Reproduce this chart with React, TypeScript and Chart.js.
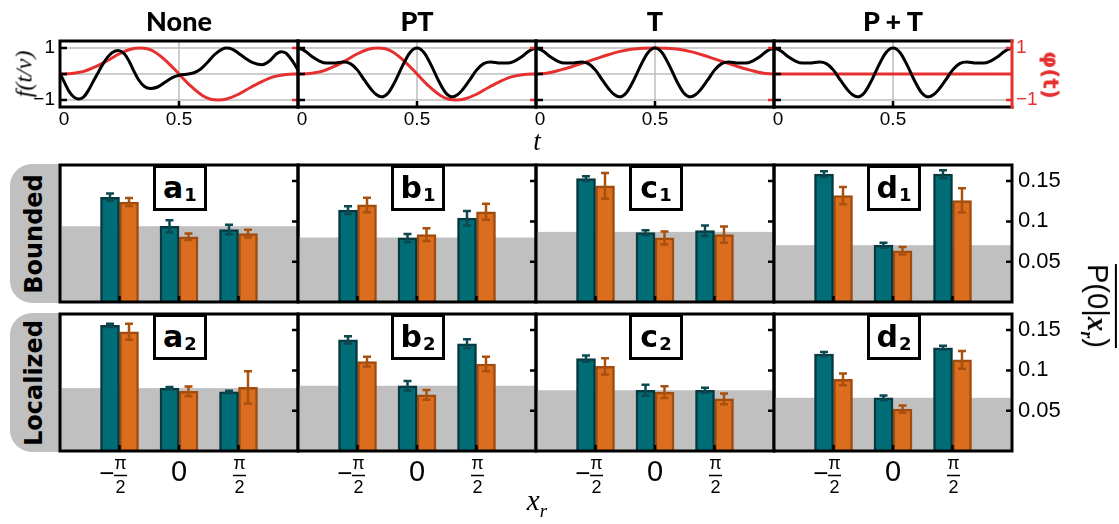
import React, { useEffect, useRef } from 'react';
import { Chart, registerables } from 'chart.js';
Chart.register(...registerables);

// ---------------- data ----------------
const panelTitles = ['None', 'PT', 'T', 'P + T'];
const panelLetters = ['a', 'b', 'c', 'd'];
const rowNames = ['Bounded', 'Localized'];
const xrLabels = ['−π/2', '0', 'π/2'];
const tTicks = [0, 0.5];
const fTicks = [1, 0, -1];
const phiTicks = [1, -1];
const pTicks = [0.05, 0.1, 0.15];

// f(t/ν) for "None"
const tNone = [0, 0.02, 0.04, 0.06, 0.08, 0.1, 0.12, 0.14, 0.16, 0.18, 0.2, 0.22, 0.245, 0.27, 0.29, 0.31, 0.33, 0.355, 0.38, 0.41, 0.44, 0.47, 0.5, 0.53, 0.56, 0.59, 0.62, 0.65, 0.68, 0.7, 0.725, 0.75, 0.78, 0.81, 0.85, 0.88, 0.91, 0.93, 0.95, 0.975, 1];
const fNone = [0.02, -0.35, -0.7, -0.9, -0.96, -0.88, -0.62, -0.28, 0.05, 0.38, 0.65, 0.83, 0.9, 0.78, 0.5, 0.12, -0.22, -0.48, -0.56, -0.5, -0.33, -0.15, -0.05, -0.01, 0.04, 0.18, 0.45, 0.75, 0.95, 1, 0.95, 0.8, 0.6, 0.44, 0.36, 0.5, 0.78, 0.86, 0.8, 0.52, 0.15];
// f(t/ν) for "PT", "T", "P + T"
const tSym = [0, 0.03, 0.06, 0.09, 0.12, 0.15, 0.19, 0.22, 0.25, 0.28, 0.31, 0.33, 0.35, 0.38, 0.41, 0.44, 0.47, 0.5, 0.53, 0.56, 0.59, 0.62, 0.65, 0.67, 0.69, 0.72, 0.75, 0.78, 0.81, 0.85, 0.88, 0.91, 0.94, 0.97, 1];
const fPT = [1, 0.88, 0.66, 0.5, 0.42, 0.42, 0.46, 0.4, 0.15, -0.25, -0.62, -0.8, -0.88, -0.72, -0.25, 0.33, 0.82, 1, 0.82, 0.33, -0.25, -0.72, -0.88, -0.8, -0.62, -0.25, 0.15, 0.4, 0.46, 0.42, 0.42, 0.5, 0.66, 0.88, 1];
const fT = fPT;
const fPplusT = fPT;

// φ(t)
const tPhi = [0, 0.05, 0.1, 0.15, 0.2, 0.25, 0.3, 0.333, 0.367, 0.4, 0.45, 0.5, 0.55, 0.6, 0.633, 0.667, 0.7, 0.75, 0.8, 0.85, 0.9, 0.95, 1];
const phiNone = [0, 0.02, 0.1, 0.28, 0.52, 0.78, 0.96, 1, 0.97, 0.84, 0.47, 0, -0.47, -0.84, -0.97, -1, -0.96, -0.78, -0.52, -0.28, -0.1, -0.02, 0];
const phiPT = phiNone;
const tPhiT = [0, 0.05, 0.1, 0.15, 0.2, 0.25, 0.3, 0.35, 0.4, 0.45, 0.5, 0.55, 0.6, 0.65, 0.7, 0.75, 0.8, 0.85, 0.9, 0.95, 1];
const phiT = [0, 0.04, 0.15, 0.28, 0.43, 0.58, 0.73, 0.86, 0.95, 0.99, 1, 0.99, 0.95, 0.86, 0.73, 0.58, 0.43, 0.28, 0.15, 0.04, 0];
const tPhiFlat = [0, 1];
const phiPplusT = [0, 0];

// P(0|x_r) bars: [panel][x_r]
const boundedTeal = [[0.13, 0.094, 0.09], [0.114, 0.0795, 0.104], [0.153, 0.086, 0.0885], [0.1586, 0.0705, 0.1586]];
const boundedTealErr = [[0.0045, 0.0075, 0.006], [0.0047, 0.005, 0.009], [0.003, 0.003, 0.0065], [0.0035, 0.003, 0.005]];
const boundedOrange = [[0.124, 0.081, 0.085], [0.1205, 0.0836, 0.112], [0.144, 0.0795, 0.0836], [0.132, 0.0635, 0.126]];
const boundedOrangeErr = [[0.005, 0.004, 0.0045], [0.009, 0.008, 0.01], [0.016, 0.008, 0.01], [0.0107, 0.0047, 0.015]];
const localizedTeal = [[0.156, 0.078, 0.0733], [0.138, 0.081, 0.133], [0.1146, 0.0754, 0.0754], [0.1204, 0.066, 0.128]];
const localizedTealErr = [[0.002, 0.0015, 0.0015], [0.0045, 0.006, 0.0056], [0.004, 0.0067, 0.003], [0.0025, 0.003, 0.0025]];
const localizedOrange = [[0.148, 0.074, 0.079], [0.111, 0.0696, 0.108], [0.105, 0.073, 0.0646], [0.089, 0.052, 0.113]];
const localizedOrangeErr = [[0.01, 0.006, 0.02], [0.006, 0.006, 0.009], [0.01, 0.0073, 0.0067], [0.0073, 0.0044, 0.011]];
const boundedBaseline = [0.094, 0.08, 0.087, 0.0705];
const localizedBaseline = [0.078, 0.081, 0.0754, 0.066];

// ---------------- style / geometry ----------------
const RED = '#e5302f';
const TEAL = '#016d77', TEAL_EDGE = '#073a40', TEAL_ERR = '#0c4850';
const ORANGE = '#da6d1e', ORANGE_EDGE = '#a04c0e', ORANGE_ERR = '#a9500f';
const GREY = '#c0c0c0';
const SANS = '"Liberation Sans", Arial, sans-serif';
const SERIF = '"Liberation Serif", "DejaVu Serif", serif';

const PANEL_LEFT = 60, PANEL_W = 238;
const TOP_Y = 41, TOP_H = 66;
const ROW_Y = [165, 314], ROW_H = 137;
const PAD = { left: 50, right: 80, top: 8, bottom: 48 };

const blackSeries = [
  { t: tNone, v: fNone },
  { t: tSym, v: fPT },
  { t: tSym, v: fT },
  { t: tSym, v: fPplusT },
];
const redSeries = [
  { t: tPhi, v: phiNone },
  { t: tPhi, v: phiPT },
  { t: tPhiT, v: phiT },
  { t: tPhiFlat, v: phiPplusT },
];

function seg(ctx: CanvasRenderingContext2D, x1: number, y1: number, x2: number, y2: number) {
  ctx.moveTo(x1, y1);
  ctx.lineTo(x2, y2);
}

function makeLinePlugin(col: number) {
  return {
    id: 'lineDeco',
    beforeDatasetsDraw(chart: any) {
      const { ctx, chartArea: a, scales: { x, y } } = chart;
      ctx.save();
      ctx.strokeStyle = '#bdbdbd';
      ctx.lineWidth = 1.5;
      ctx.beginPath();
      for (const v of fTicks) {
        const py = y.getPixelForValue(v);
        seg(ctx, a.left, py, a.right, py);
      }
      const px = x.getPixelForValue(0.5);
      seg(ctx, px, a.top, px, a.bottom);
      ctx.stroke();
      ctx.restore();
    },
    afterDraw(chart: any) {
      const { ctx, chartArea: a, scales: { x, y } } = chart;
      ctx.save();
      ctx.lineWidth = 2.5;
      ctx.strokeStyle = '#000';
      ctx.beginPath();
      for (const v of fTicks) {
        const py = y.getPixelForValue(v);
        seg(ctx, a.left, py, a.left + 7, py);
      }
      const px = x.getPixelForValue(0.5);
      seg(ctx, px, a.bottom, px, a.bottom - 6);
      ctx.stroke();
      ctx.strokeStyle = RED;
      ctx.beginPath();
      for (const v of phiTicks) {
        const py = y.getPixelForValue(v);
        seg(ctx, a.right - 6, py, a.right, py);
      }
      ctx.stroke();
      // border
      ctx.lineWidth = 3;
      ctx.strokeStyle = '#000';
      ctx.beginPath();
      ctx.moveTo(a.right + 1.5, a.top);
      ctx.lineTo(a.left, a.top);
      ctx.lineTo(a.left, a.bottom);
      ctx.lineTo(a.right + 1.5, a.bottom);
      ctx.stroke();
      ctx.strokeStyle = col === 3 ? RED : '#000';
      ctx.beginPath();
      seg(ctx, a.right, a.top - 1.5, a.right, a.bottom + 1.5);
      ctx.stroke();
      // tick labels
      ctx.fillStyle = '#000';
      ctx.font = `19px ${SANS}`;
      ctx.textAlign = 'center';
      ctx.textBaseline = 'top';
      for (const t of tTicks) {
        ctx.fillText(String(t), x.getPixelForValue(t) + (t === 0 ? 4 : 0), a.bottom + 3);
      }
      ctx.textBaseline = 'middle';
      if (col === 0) {
        ctx.textAlign = 'right';
        for (const v of phiTicks) ctx.fillText(v < 0 ? '−' + Math.abs(v) : String(v), a.left - 5, y.getPixelForValue(v));
      }
      if (col === 3) {
        ctx.fillStyle = RED;
        ctx.textAlign = 'left';
        for (const v of phiTicks) ctx.fillText(v < 0 ? '−' + Math.abs(v) : String(v), a.right + 4, y.getPixelForValue(v));
      }
      ctx.restore();
    },
  };
}

function drawXrLabel(ctx: CanvasRenderingContext2D, label: string, cx: number, y0: number) {
  ctx.fillStyle = '#000';
  ctx.strokeStyle = '#000';
  ctx.textBaseline = 'middle';
  ctx.textAlign = 'center';
  if (label.includes('/')) {
    const neg = label.startsWith('−');
    const [num, den] = label.replace('−', '').split('/');
    const fx = cx + 1;
    ctx.font = `18px ${SANS}`;
    ctx.fillText(num, fx, y0 + 13);
    ctx.fillText(den, fx, y0 + 37);
    ctx.lineWidth = 1.5;
    ctx.beginPath();
    seg(ctx, fx - 6.5, y0 + 24.5, fx + 6.5, y0 + 24.5);
    ctx.stroke();
    if (neg) {
      ctx.font = `26px ${SANS}`;
      ctx.textAlign = 'right';
      ctx.fillText('−', fx - 6, y0 + 24);
    }
  } else {
    ctx.font = `29px ${SANS}`;
    ctx.fillText(label, cx, y0 + 22);
  }
}

function makeBarPlugin(row: number, col: number) {
  const errs = row === 0 ? [boundedTealErr[col], boundedOrangeErr[col]] : [localizedTealErr[col], localizedOrangeErr[col]];
  const base = row === 0 ? boundedBaseline[col] : localizedBaseline[col];
  return {
    id: 'barDeco',
    beforeDatasetsDraw(chart: any) {
      const { ctx, chartArea: a, scales: { y } } = chart;
      const yb = y.getPixelForValue(base);
      ctx.save();
      ctx.fillStyle = GREY;
      ctx.fillRect(a.left, yb, a.right - a.left, a.bottom - yb);
      ctx.restore();
    },
    afterDatasetsDraw(chart: any) {
      const { ctx, scales: { y } } = chart;
      ctx.save();
      ctx.lineWidth = 2.5;
      chart.data.datasets.forEach((ds: any, di: number) => {
        const meta = chart.getDatasetMeta(di);
        ctx.strokeStyle = di === 0 ? TEAL_ERR : ORANGE_ERR;
        meta.data.forEach((el: any, i: number) => {
          const v = ds.data[i];
          if (v == null) return;
          const e = errs[di][i - 1];
          const x = el.x;
          const y1 = y.getPixelForValue(v + e);
          const y2 = y.getPixelForValue(v - e);
          ctx.beginPath();
          seg(ctx, x, y1, x, y2);
          seg(ctx, x - 4, y1, x + 4, y1);
          seg(ctx, x - 4, y2, x + 4, y2);
          ctx.stroke();
        });
      });
      ctx.restore();
    },
    afterDraw(chart: any) {
      const { ctx, chartArea: a, scales: { x, y } } = chart;
      ctx.save();
      ctx.strokeStyle = '#000';
      ctx.lineWidth = 2.5;
      ctx.beginPath();
      for (const v of pTicks) {
        const py = y.getPixelForValue(v);
        seg(ctx, a.right - 6, py, a.right, py);
      }
      for (let i = 1; i <= xrLabels.length; i++) {
        const px = x.getPixelForValue(i);
        seg(ctx, px, a.bottom, px, a.bottom - 6);
      }
      ctx.stroke();
      ctx.lineWidth = 3;
      ctx.strokeRect(a.left, a.top, a.right - a.left, a.bottom - a.top);
      if (col === 3) {
        ctx.fillStyle = '#000';
        ctx.font = `22px ${SANS}`;
        ctx.textAlign = 'left';
        ctx.textBaseline = 'middle';
        for (const v of pTicks) ctx.fillText(String(v), a.right + 6, y.getPixelForValue(v));
      }
      if (row === 1) {
        xrLabels.forEach((lab, i) => drawXrLabel(ctx, lab, x.getPixelForValue(i + 1), a.bottom));
      }
      ctx.restore();
    },
  };
}

function lineConfig(col: number): any {
  const b = blackSeries[col];
  const r = redSeries[col];
  return {
    type: 'line',
    data: {
      datasets: [
        { data: b.t.map((t, i) => ({ x: t, y: b.v[i] })), borderColor: '#000', borderWidth: 3, pointRadius: 0, cubicInterpolationMode: 'monotone', fill: false },
        { data: r.t.map((t, i) => ({ x: t, y: r.v[i] })), borderColor: RED, borderWidth: 3, pointRadius: 0, cubicInterpolationMode: 'monotone', fill: false },
      ],
    },
    options: {
      animation: false,
      responsive: false,
      maintainAspectRatio: false,
      events: [],
      layout: { padding: { ...PAD } },
      plugins: { legend: { display: false }, tooltip: { enabled: false } },
      scales: {
        x: { type: 'linear', min: 0, max: 1, display: false },
        y: { type: 'linear', min: -1.27, max: 1.27, display: false },
      },
    },
    plugins: [makeLinePlugin(col)],
  };
}

function barConfig(row: number, col: number): any {
  const teal = row === 0 ? boundedTeal[col] : localizedTeal[col];
  const orange = row === 0 ? boundedOrange[col] : localizedOrange[col];
  return {
    type: 'bar',
    data: {
      labels: ['', ...xrLabels, ''],
      datasets: [
        { data: [null, ...teal, null], backgroundColor: TEAL, borderColor: TEAL_EDGE, borderWidth: 2.5, barThickness: 19 },
        { data: [null, ...orange, null], backgroundColor: ORANGE, borderColor: ORANGE_EDGE, borderWidth: 2.5, barThickness: 19 },
      ],
    },
    options: {
      animation: false,
      responsive: false,
      maintainAspectRatio: false,
      events: [],
      layout: { padding: { ...PAD } },
      plugins: { legend: { display: false }, tooltip: { enabled: false } },
      scales: {
        x: { type: 'category', offset: false, display: false, grid: { offset: false } },
        y: { type: 'linear', min: 0, max: 0.17, display: false },
      },
    },
    plugins: [makeBarPlugin(row, col)],
  };
}

function ChartCanvas({ x, y, w, h, make }: { x: number; y: number; w: number; h: number; make: () => any }) {
  const ref = useRef<HTMLCanvasElement>(null);
  useEffect(() => {
    const chart = new Chart(ref.current as HTMLCanvasElement, make());
    return () => chart.destroy();
  }, []);
  const cw = w + PAD.left + PAD.right;
  const ch = h + PAD.top + PAD.bottom;
  return (
    <canvas
      ref={ref}
      width={cw}
      height={ch}
      style={{ position: 'absolute', left: x - PAD.left, top: y - PAD.top, width: cw, height: ch }}
    />
  );
}

const abs = (x: number, y: number, extra: React.CSSProperties = {}): React.CSSProperties => ({
  position: 'absolute',
  left: x,
  top: y,
  whiteSpace: 'nowrap',
  ...extra,
});

export default function App() {
  const cols = [0, 1, 2, 3];
  return (
    <div style={{ position: 'fixed', left: 0, top: 0, width: 1119, height: 524, background: '#fff', overflow: 'hidden' }}>
      {/* row tabs */}
      {rowNames.map((name, r) => (
        <div
          key={name}
          style={{ position: 'absolute', left: 10, top: ROW_Y[r] - 1, width: 52, height: ROW_H + 2, background: GREY, borderRadius: '22px 0 0 22px' }}
        >
          <div
            style={abs(24, (ROW_H + 2) / 2, {
              transform: 'translate(-50%, -50%) rotate(-90deg)',
              font: `bold 24px "DejaVu Sans", sans-serif`,
              color: '#000',
            })}
          >
            {name}
          </div>
        </div>
      ))}

      {cols.map((c) => (
        <ChartCanvas key={'l' + c} x={PANEL_LEFT + c * PANEL_W} y={TOP_Y} w={PANEL_W} h={TOP_H} make={() => lineConfig(c)} />
      ))}
      {[0, 1].map((r) =>
        cols.map((c) => (
          <ChartCanvas key={'b' + r + c} x={PANEL_LEFT + c * PANEL_W} y={ROW_Y[r]} w={PANEL_W} h={ROW_H} make={() => barConfig(r, c)} />
        ))
      )}

      {/* panel letter boxes */}
      {[0, 1].map((r) =>
        cols.map((c) => (
          <div
            key={'box' + r + c}
            style={{
              position: 'absolute',
              left: PANEL_LEFT + c * PANEL_W + PANEL_W / 2 - 26,
              top: ROW_Y[r],
              width: 54,
              height: 46,
              boxSizing: 'border-box',
              border: '3px solid #000',
              background: '#fff',
              display: 'flex',
              alignItems: 'center',
              justifyContent: 'center',
              font: `bold 30px "DejaVu Sans", sans-serif`,
              lineHeight: '30px',
              color: '#000',
            }}
          >
            <span>{panelLetters[c]}</span>
            <span style={{ fontSize: 18, position: 'relative', top: 7, marginLeft: 1 }}>{r + 1}</span>
          </div>
        ))
      )}

      {/* titles */}
      {panelTitles.map((t, c) => (
        <div
          key={t}
          style={abs(PANEL_LEFT + c * PANEL_W + PANEL_W / 2, 20, {
            transform: 'translate(-50%, -50%)',
            font: `900 27px Lato, "DejaVu Sans", sans-serif`,
            color: '#000',
          })}
        >
          {t}
        </div>
      ))}

      {/* axis titles */}
      <div style={abs(24, 74, { transform: 'translate(-50%, -50%) rotate(-90deg)', font: `italic 24px ${SERIF}` })}>
        f(t/ν)
      </div>
      <div style={abs(1051, 75, { transform: 'translate(-50%, -50%) rotate(90deg)', font: `bold 22px "DejaVu Sans", sans-serif`, color: RED })}>
        φ(t)
      </div>
      <div style={abs(537, 141, { transform: 'translate(-50%, -50%)', font: `italic 27px ${SERIF}` })}>t</div>
      <div style={abs(537, 503, { transform: 'translate(-50%, -50%)', font: `italic 29px ${SERIF}` })}>
        x<sub style={{ fontSize: 19 }}>r</sub>
      </div>
      <div
        style={abs(1094, 306, {
          transform: 'translate(-50%, -50%) rotate(90deg)',
          font: `29px ${SANS}`,
          borderTop: '2.5px solid #000',
          lineHeight: '32px',
          paddingTop: 1,
        })}
      >
        P(0|
        <span style={{ fontFamily: SERIF, fontStyle: 'italic', fontWeight: 'bold' }}>
          x<sub style={{ fontSize: 18 }}>r</sub>
        </span>
        )
      </div>
    </div>
  );
}
